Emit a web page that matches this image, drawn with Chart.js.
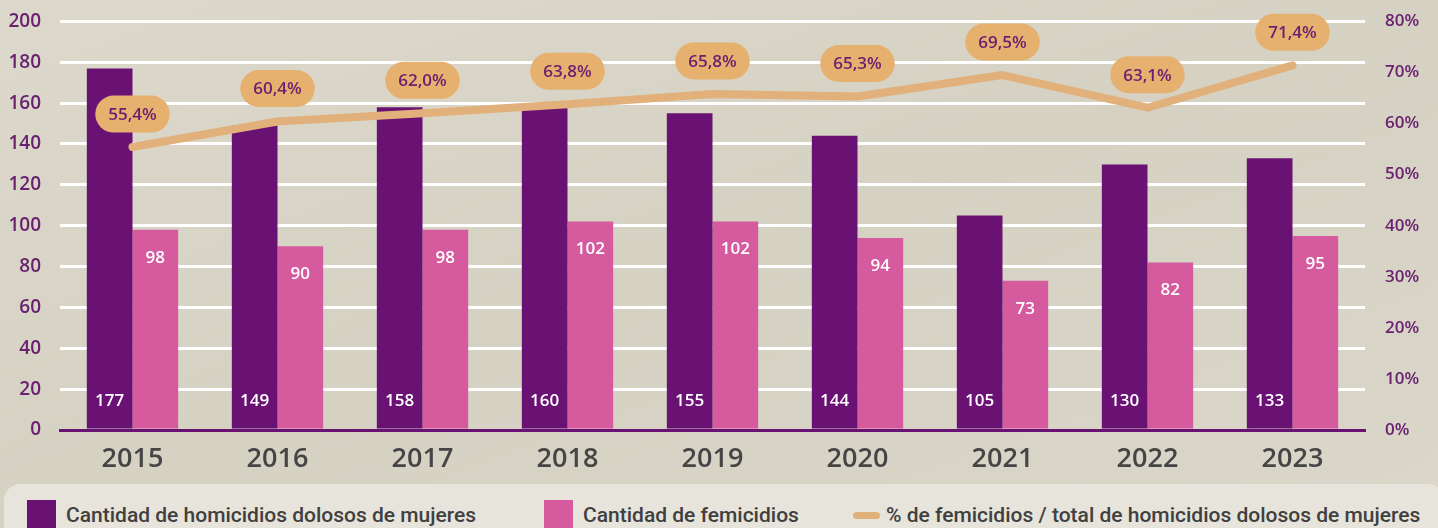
<!DOCTYPE html>
<html>
<head>
<meta charset="utf-8">
<script src="https://cdn.jsdelivr.net/npm/chart.js@4"></script>
<style>
  html, body { margin: 0; padding: 0; }
  body {
    width: 1438px; height: 528px; overflow: hidden; position: relative;
    background: linear-gradient(160deg, #dcd8cb 0%, #d5d1c3 50%, #dad6c9 100%);
    font-family: "Open Sans", sans-serif;
  }
  #wrap { position: absolute; left: 0; top: -9px; width: 1438px; height: 489px; }
  #legend {
    position: absolute; left: 4px; top: 484px; width: 1440px; height: 60px;
    background: #e7e4db; border-radius: 16px;
  }
  .item { position: absolute; top: 16px; height: 30px; display: flex; align-items: center;
    font-family: Roboto, sans-serif; font-weight: 500; font-size: 21px; color: #404040; }
  .sq { width: 29px; height: 30px; margin-right: 10px; }
  .ln { width: 27px; height: 7px; border-radius: 4px; background: #e2b07a; margin-right: 6px; }
</style>
</head>
<body>
<div id="wrap"><canvas id="chart" width="1438" height="489"></canvas></div>
<div id="legend">
  <div class="item" style="left:23px"><div class="sq" style="background:#6a1273"></div>Cantidad de homicidios dolosos de mujeres</div>
  <div class="item" style="left:540px"><div class="sq" style="background:#d65a9e"></div>Cantidad de femicidios</div>
  <div class="item" style="left:849px"><div class="ln"></div>% de femicidios / total de homicidios dolosos de mujeres</div>
</div>
<script>
const years = ["2015", "2016", "2017", "2018", "2019", "2020", "2021", "2022", "2023"];
const homicidios = [177, 149, 158, 160, 155, 144, 105, 130, 133];
const femicidios = [98, 90, 98, 102, 102, 94, 73, 82, 95];
const porcentaje = [55.4, 60.4, 62.0, 63.8, 65.8, 65.3, 69.5, 63.1, 71.4];

const PURPLE = "#6a1273";
const PINK = "#d65a9e";
const TAN = "#e2b07a";

// value labels on bars + rounded tags over the line
const labelsPlugin = {
  id: "labels",
  afterDatasetsDraw(chart) {
    const ctx = chart.ctx;
    ctx.save();
    ctx.textAlign = "center";
    ctx.textBaseline = "middle";
    ctx.fillStyle = "#ffffff";
    ctx.font = "600 17px 'Open Sans'";
    chart.getDatasetMeta(0).data.forEach((bar, i) => {
      ctx.fillText(homicidios[i], bar.x, bar.base - 27);
    });
    chart.getDatasetMeta(1).data.forEach((bar, i) => {
      ctx.fillText(femicidios[i], bar.x, bar.y + 28);
    });
    chart.getDatasetMeta(2).data.forEach((pt, i) => {
      const txt = porcentaje[i].toFixed(1).replace(".", ",") + "%";
      const w = ctx.measureText(txt).width + 26, h = 37;
      const cx = pt.x, cy = pt.y - 33;
      ctx.fillStyle = "#e6b06e";
      ctx.beginPath();
      ctx.roundRect(cx - w / 2, cy - h / 2, w, h, h / 2);
      ctx.fill();
      ctx.fillStyle = "#6a1f70";
      ctx.fillText(txt, cx, cy + 1);
    });
    ctx.restore();
  }
};

new Chart(document.getElementById("chart"), {
  type: "bar",
  data: {
    labels: years,
    datasets: [
      { label: "Cantidad de homicidios dolosos de mujeres", data: homicidios, backgroundColor: PURPLE,
        yAxisID: "y", order: 1, categoryPercentage: 0.63, barPercentage: 1 },
      { label: "Cantidad de femicidios", data: femicidios, backgroundColor: PINK,
        yAxisID: "y", order: 1, categoryPercentage: 0.63, barPercentage: 1 },
      { type: "line", label: "% de femicidios / total de homicidios dolosos de mujeres", data: porcentaje,
        yAxisID: "y2", order: 0, borderColor: TAN, borderWidth: 8, pointRadius: 0,
        borderCapStyle: "round", borderJoinStyle: "round", tension: 0 }
    ]
  },
  options: {
    responsive: false,
    animation: false,
    layout: { padding: { top: 12, left: 0, right: 0, bottom: 0 } },
    plugins: { legend: { display: false }, tooltip: { enabled: false } },
    scales: {
      x: {
        grid: { display: false },
        border: { color: PURPLE, width: 3 },
        ticks: { color: "#454545", padding: 5, font: { family: "Open Sans", size: 27, weight: "600" } },
        afterFit: (s) => { s.height = 50; }
      },
      y: {
        position: "left", min: 0, max: 200,
        grid: { color: "#ffffff", lineWidth: 3, drawTicks: false },
        border: { display: false },
        ticks: { stepSize: 20, color: "#6a2270", padding: 19, font: { family: "Open Sans", size: 19, weight: "600" } },
        afterFit: (s) => { s.width = 60; }
      },
      y2: {
        position: "right", min: 0, max: 80,
        grid: { display: false, drawTicks: false },
        border: { display: false },
        ticks: { stepSize: 10, color: "#6a2270", padding: 20, callback: (v) => v + "%",
          font: { family: "Open Sans", size: 17, weight: "600" } },
        afterFit: (s) => { s.width = 73; }
      }
    }
  },
  plugins: [labelsPlugin]
});
</script>
</body>
</html>
